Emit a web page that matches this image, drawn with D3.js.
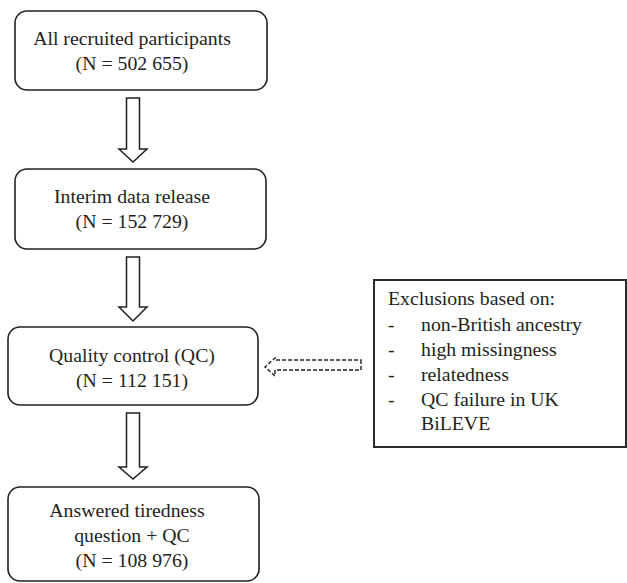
<!DOCTYPE html>
<html>
<head>
<meta charset="utf-8">
<script src="https://cdn.jsdelivr.net/npm/d3@7"></script>
<style>
  html, body { margin: 0; padding: 0; background: #fff; }
  svg { display: block; }
  text { font-family: "Liberation Serif", "Times New Roman", serif; font-size: 19.8px; fill: #231f20; }
</style>
</head>
<body>
<svg id="chart" width="627" height="583"></svg>
<script>
// ---- data ----
const stageLabels = [
  ["All recruited participants"],
  ["Interim data release"],
  ["Quality control (QC)"],
  ["Answered tiredness", "question + QC"]
];
const stageCounts = ["502 655", "152 729", "112 151", "108 976"];
const exclusionTitle = "Exclusions based on:";
const exclusionItems = ["non-British ancestry", "high missingness", "relatedness", "QC failure in UK", "BiLEVE"];
const exclusionDash = [true, true, true, true, false];

// ---- layout ----
const svg = d3.select("#chart");
const ink = "#231f20";

const boxes = [
  {x0: 15, x1: 267, y0: 11, y1: 90},
  {x0: 15, x1: 266, y0: 169, y1: 249},
  {x0: 8, x1: 258, y0: 327, y1: 405},
  {x0: 8, x1: 259, y0: 487, y1: 581}
];
const firstBaseline = [45, 203, 362, 517];
const lineH = 25;
const textCx = 132;

stageLabels.forEach((lines, i) => {
  const b = boxes[i];
  svg.append("rect")
    .attr("x", b.x0).attr("y", b.y0)
    .attr("width", b.x1 - b.x0).attr("height", b.y1 - b.y0)
    .attr("rx", 12).attr("ry", 12)
    .attr("fill", "none").attr("stroke", ink).attr("stroke-width", 1.6);
  const all = lines.concat(["(N = " + stageCounts[i] + ")"]);
  all.forEach((t, j) => {
    svg.append("text")
      .attr("x", textCx + (i === 3 && j === 0 ? -5 : 0))
      .attr("y", firstBaseline[i] + j * lineH)
      .attr("text-anchor", "middle")
      .text(t);
  });
});

// block arrows between stages
function downArrow(cx, top, headBase, tip) {
  const sw = 6.5, hw = 14;
  const p = d3.path();
  p.moveTo(cx - sw, top);
  p.lineTo(cx + sw, top);
  p.lineTo(cx + sw, headBase);
  p.lineTo(cx + hw, headBase);
  p.lineTo(cx, tip);
  p.lineTo(cx - hw, headBase);
  p.lineTo(cx - sw, headBase);
  p.closePath();
  svg.append("path").attr("d", p.toString())
    .attr("fill", "#fff").attr("stroke", ink).attr("stroke-width", 1.5)
    .attr("stroke-linejoin", "miter");
}
downArrow(133, 98, 149, 162);
downArrow(133, 257, 307, 321);
downArrow(133, 413, 467, 479);

// dashed left arrow
(function () {
  const p = d3.path();
  p.moveTo(361, 360);
  p.lineTo(361, 370);
  p.lineTo(275, 370);
  p.lineTo(275, 376);
  p.lineTo(265, 367);
  p.lineTo(275, 358);
  p.lineTo(275, 360);
  p.closePath();
  svg.append("path").attr("d", p.toString())
    .attr("fill", "none").attr("stroke", ink).attr("stroke-width", 1.4)
    .attr("stroke-dasharray", "4,2");
})();

// exclusion box
svg.append("rect")
  .attr("x", 374).attr("y", 280).attr("width", 252).attr("height", 167)
  .attr("fill", "none").attr("stroke", "#2b2b2b").attr("stroke-width", 2);

svg.append("text").attr("x", 388).attr("y", 305).text(exclusionTitle);
const exY = [331, 356, 381, 406, 430];
exclusionItems.forEach((t, i) => {
  if (exclusionDash[i]) {
    svg.append("text").attr("x", 388).attr("y", exY[i]).text("-");
  }
  svg.append("text").attr("x", 421).attr("y", exY[i]).text(t);
});
</script>
</body>
</html>
